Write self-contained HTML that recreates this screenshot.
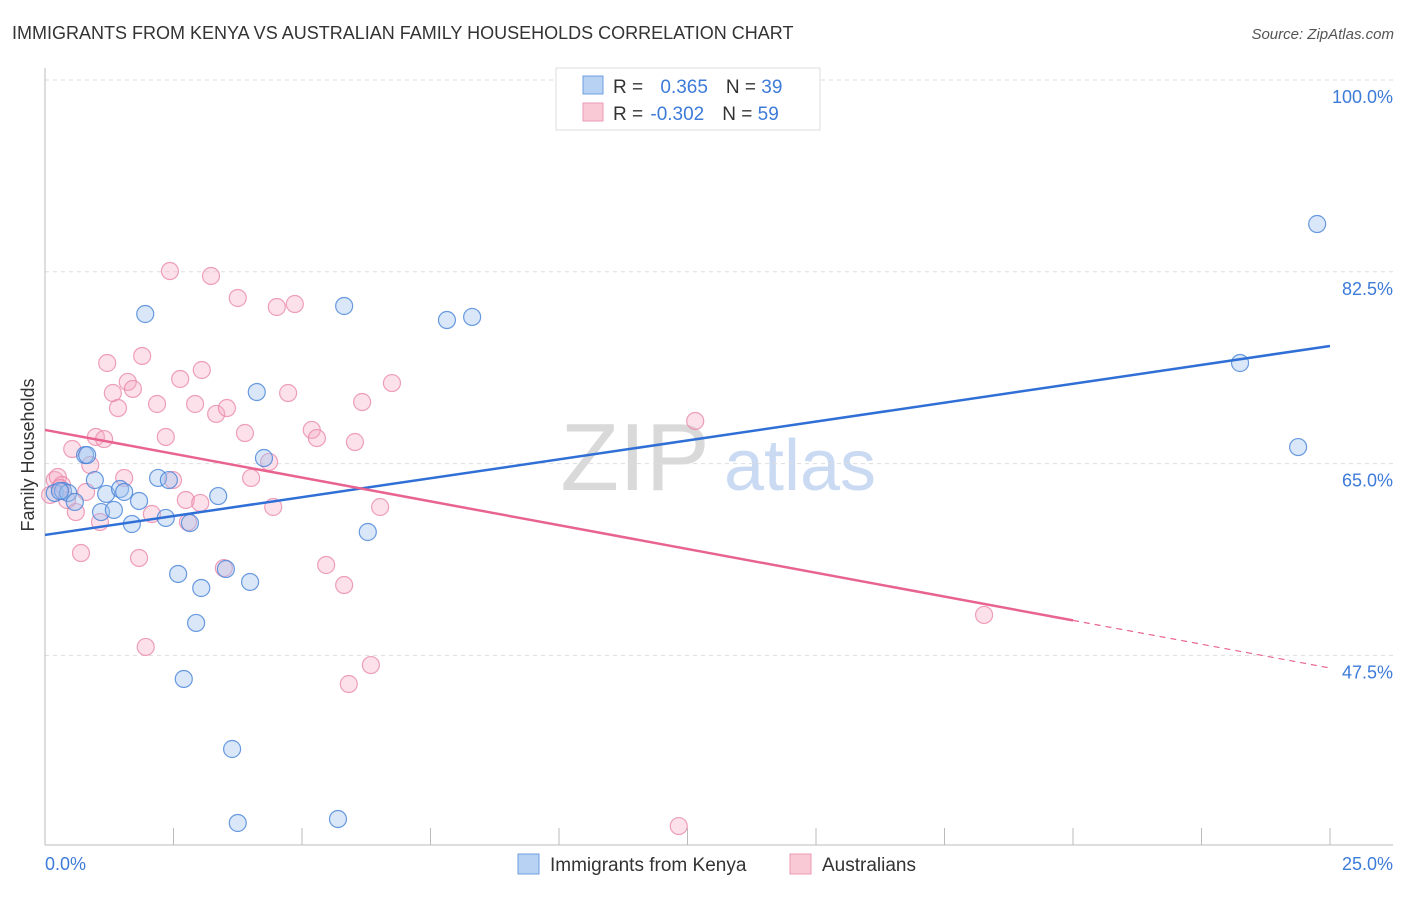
<!DOCTYPE html>
<html><head><meta charset="utf-8"><style>
body{margin:0;background:#fff;font-family:"Liberation Sans",sans-serif;}
svg text{font-family:"Liberation Sans",sans-serif;}
</style></head><body>
<svg id="c" width="1406" height="892">
<text x="12" y="39" font-size="18" fill="#333">IMMIGRANTS FROM KENYA VS AUSTRALIAN FAMILY HOUSEHOLDS CORRELATION CHART</text>
<text x="1394" y="39" font-size="15" fill="#555" font-style="italic" text-anchor="end">Source: ZipAtlas.com</text>
<text x="635" y="490" font-size="96" fill="#d9d9d9" font-family="Liberation Serif" text-anchor="middle">ZIP</text>
<text x="800" y="490" font-size="72" fill="#c9daf2" text-anchor="middle">atlas</text>
<g id="grid"></g><g id="axes"></g><g id="pts"></g><g id="lines"></g>
<text x="34" y="455" font-size="18" fill="#333" text-anchor="middle" transform="rotate(-90 34 455)">Family Households</text>
<g>
<rect x="556" y="68" width="264" height="62" fill="#fff" stroke="#ddd"/>
<rect x="583" y="76" width="20" height="18" fill="#b8d2f3" stroke="#6d9ee0"/>
<rect x="583" y="103" width="20" height="18" fill="#f9c9d6" stroke="#ec9ab4"/>
<text x="613" y="93" font-size="19" fill="#333">R = <tspan fill="#3d7bd9" dx="12">0.365</tspan><tspan dx="18">N = </tspan><tspan fill="#3d7bd9">39</tspan></text>
<text x="613" y="120" font-size="19" fill="#333">R = <tspan fill="#3d7bd9" dx="2">-0.302</tspan><tspan dx="18">N = </tspan><tspan fill="#3d7bd9">59</tspan></text>
</g>
<g>
<rect x="518" y="854" width="21" height="20" fill="#b8d2f3" stroke="#6d9ee0"/>
<text x="550" y="871" font-size="19" fill="#333">Immigrants from Kenya</text>
<rect x="790" y="854" width="21" height="20" fill="#f9c9d6" stroke="#ec9ab4"/>
<text x="822" y="871" font-size="19" fill="#333">Australians</text>
</g>
</svg>
<script>
const blueX=[0.19,0.35,0.45,0.58,0.78,0.82,0.97,1.09,1.19,1.34,1.46,1.54,1.69,1.83,1.95,2.20,2.35,2.41,2.59,2.70,2.82,2.94,3.04,3.37,3.52,3.64,3.75,3.99,4.12,4.26,5.70,5.82,6.28,7.82,8.31,23.25,24.38,24.75,0.29];
const blueY=[62.32,62.5,62.32,61.5,65.78,65.78,63.5,60.58,62.23,60.77,62.68,62.41,59.49,61.59,78.65,63.69,60.04,63.5,54.93,45.35,59.58,50.46,53.65,62.04,55.38,38.96,32.21,54.2,71.53,65.51,32.57,79.38,58.76,78.1,78.38,74.18,66.51,86.86,62.5];
const pinkX=[0.10,0.19,0.25,0.33,0.43,0.53,0.60,0.70,0.80,0.88,0.99,1.07,1.15,1.32,1.21,1.42,1.54,1.61,1.71,1.83,1.89,1.96,2.08,2.18,2.35,2.43,2.49,2.63,2.74,2.78,2.92,3.02,3.05,3.23,3.33,3.48,3.54,3.75,3.89,4.01,4.36,4.44,4.51,4.73,4.86,5.19,5.29,5.47,5.82,5.91,6.03,6.17,6.34,6.52,6.75,12.33,12.65,18.27,0.29];
const pinkY=[62.14,63.5,63.78,63.05,61.68,66.33,60.58,56.84,62.41,64.87,67.43,59.67,67.24,71.44,74.18,70.07,63.69,72.45,71.81,56.39,74.82,48.27,60.4,70.44,67.43,82.57,63.5,72.72,61.68,59.67,70.44,61.41,73.54,82.12,69.53,55.47,70.07,80.11,67.79,63.69,65.15,61.04,79.29,71.44,79.56,68.07,67.33,55.75,53.92,44.89,66.97,70.62,46.62,61.04,72.35,31.93,68.89,51.19,62.77];
const yTicks=[100,82.5,65,47.5];
const xTickLabels=["0.0%","25.0%"];
const blueLine=[58.49,75.73];
const pinkLine=[68.07,46.35];
const pinkSolidEnd=20;
const NS="http://www.w3.org/2000/svg";
const X=v=>45+v/25*1285, Y=v=>80+(100-v)*10.96;
function mk(t,a,p){const e=document.createElementNS(NS,t);for(const k in a)e.setAttribute(k,a[k]);p.appendChild(e);return e;}
const grid=document.getElementById('grid'),axes=document.getElementById('axes'),pts=document.getElementById('pts'),lines=document.getElementById('lines');
yTicks.forEach(v=>{
 const l=mk('line',{x1:45,x2:1393,y1:Y(v),y2:Y(v),stroke:'#ddd','stroke-dasharray':'4,4'},grid);
 
 
 const t=mk('text',{x:1393,y:Y(v)+23,'font-size':18,fill:'#3d7bd9','text-anchor':'end'},axes);
 t.textContent=(v===100?'100.0':v.toFixed(1))+'%';
 
 
});
mk('line',{x1:45,x2:45,y1:68,y2:845,stroke:'#bbb'},axes);
mk('line',{x1:45,x2:1393,y1:845,y2:845,stroke:'#bbb'},axes);
for(let i=0;i<=10;i++){const x=X(i*2.5);mk('line',{x1:x,x2:x,y1:828,y2:845,stroke:'#bbb'},axes);}
[[0,'start',45],[25,'end',1393]].forEach((d,i)=>{
 const t=mk('text',{x:d[2],y:870,'font-size':18,fill:'#3d7bd9','text-anchor':d[1]},axes);
 t.textContent=xTickLabels[i];
 
 
});
pinkX.forEach((x,i)=>{
 const c=mk('circle',{cx:X(x),cy:Y(pinkY[i]),r:8.5,fill:'rgba(246,170,194,0.35)',stroke:'rgba(232,130,165,0.75)','stroke-width':1.2},pts);
 
 
});
blueX.forEach((x,i)=>{
 const c=mk('circle',{cx:X(x),cy:Y(blueY[i]),r:8.5,fill:'rgba(160,195,240,0.4)',stroke:'rgba(70,130,215,0.8)','stroke-width':1.2},pts);
 
 
});
const bl=mk('line',{x1:X(0),y1:Y(blueLine[0]),x2:X(25),y2:Y(blueLine[1]),stroke:'#2f6fd6','stroke-width':2.5},lines);


const pm=pinkLine[0]+(pinkLine[1]-pinkLine[0])*pinkSolidEnd/25;
const pl=mk('line',{x1:X(0),y1:Y(pinkLine[0]),x2:X(pinkSolidEnd),y2:Y(pm),stroke:'#e8648f','stroke-width':2.5},lines);


const pd=mk('line',{x1:X(pinkSolidEnd),y1:Y(pm),x2:X(25),y2:Y(pinkLine[1]),stroke:'#e8648f','stroke-width':1.2,'stroke-dasharray':'6,5'},lines);


</script>
</body></html>
